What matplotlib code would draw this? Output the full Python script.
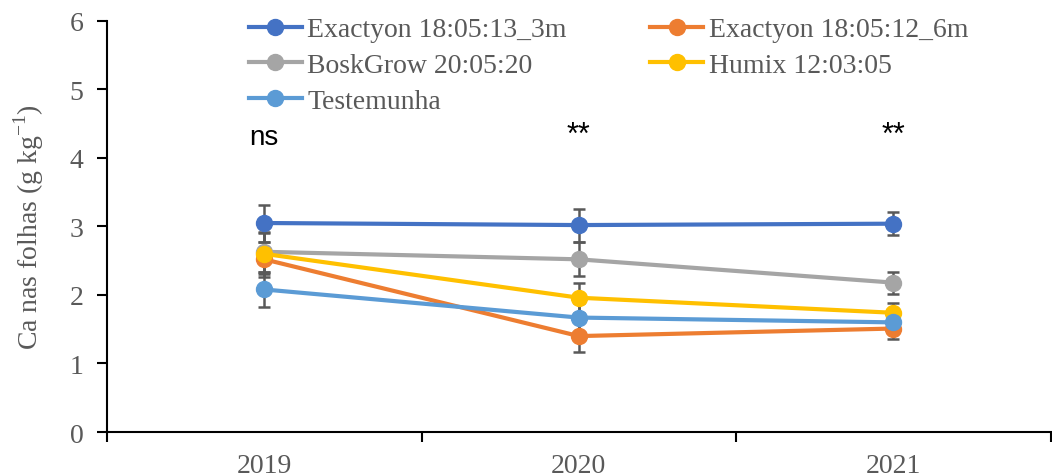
import numpy as np
import matplotlib.pyplot as plt

years = ["2019", "2020", "2021"]
series = ["Exactyon 18:05:13_3m", "Exactyon 18:05:12_6m", "BoskGrow 20:05:20",
          "Humix 12:03:05", "Testemunha"]
exactyon_3m = [3.05, 3.02, 3.04]
exactyon_6m = [2.52, 1.40, 1.51]
boskgrow = [2.63, 2.52, 2.18]
humix = [2.60, 1.96, 1.74]
testemunha = [2.08, 1.67, 1.60]
err_3m = [0.27, 0.24, 0.17]
err_6m = [0.26, 0.23, 0.15]
err_bosk = [0.29, 0.25, 0.16]
err_humix = [0.30, 0.22, 0.15]
err_test = [0.26, 0.22, 0.15]
signif = ["ns", "**", "**"]

colors = ["#4472C4", "#ED7D31", "#A5A5A5", "#FFC000", "#5B9BD5"]
values = [exactyon_3m, exactyon_6m, boskgrow, humix, testemunha]
errors = [err_3m, err_6m, err_bosk, err_humix, err_test]

plt.rcParams['font.family'] = ['Liberation Serif', 'DejaVu Serif']
plt.rcParams['mathtext.fontset'] = 'custom'
plt.rcParams['mathtext.rm'] = 'Liberation Serif'

fig = plt.figure(figsize=(10.52, 4.77), dpi=100)
ax = fig.add_axes([0.1017, 0.0922, 0.897, 0.862])

x = np.arange(len(years))
for name, vals, errs, c in zip(series, values, errors, colors):
    ax.errorbar(x, vals, yerr=errs, fmt='none', ecolor='#595959', elinewidth=1.8,
                capsize=4.5, capthick=1.8, zorder=2)
handles = []
for name, vals, c in zip(series, values, colors):
    h, = ax.plot(x, vals, color=c, lw=3, marker='o', markersize=11.5, label=name, zorder=3)
    handles.append(h)

for xi, s in zip(x, signif):
    if s == "ns":
        ax.text(xi, 4.3, s, ha='center', va='center', fontsize=20,
                family='Liberation Sans', color='black')
    else:
        ax.text(xi, 4.33, s, ha='center', va='center', fontsize=22,
                family='Liberation Sans', color='black')

ax.set_xlim(-0.5, 2.5)
ax.set_ylim(0, 6)
ax.set_yticks(range(0, 7))
ax.set_xticks(x)
ax.set_xticklabels(years)
ax.set_xticks([-0.5, 0.5, 1.5, 2.5], minor=True)
ax.tick_params(axis='x', which='major', length=0, pad=15, labelsize=20, labelcolor='#595959')
ax.tick_params(axis='x', which='minor', length=7, width=1.5, direction='out')
ax.tick_params(axis='y', length=7, width=1.5, direction='out', labelsize=20,
               labelcolor='#595959', pad=10)
for side in ['top', 'right']:
    ax.spines[side].set_visible(False)
for side in ['left', 'bottom']:
    ax.spines[side].set_linewidth(1.5)
ax.set_ylabel("Ca nas folhas (g kg$^{\\mathregular{-1}}$)", fontsize=20, color='#595959',
              labelpad=17)

order = [0, 2, 4, 1, 3]
ax.legend([handles[i] for i in order], [series[i] for i in order],
          loc='upper left', bbox_to_anchor=(0.213, 1.015), bbox_transform=fig.transFigure,
          ncol=2, frameon=False, fontsize=20, handlelength=1.9, columnspacing=3.0,
          labelspacing=0.37, handletextpad=0.2, labelcolor='#595959')

fig.savefig("out.png", dpi=100)
